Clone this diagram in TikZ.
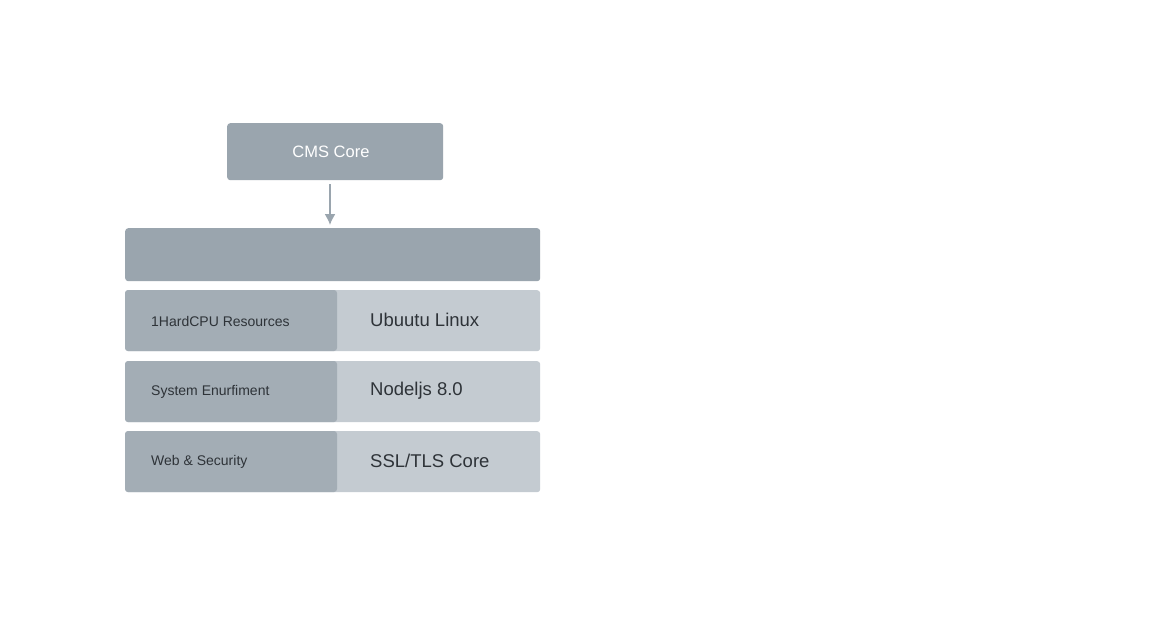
\documentclass[tikz,border=0pt]{standalone}
\usepackage{fontspec}
\setmainfont{Liberation Sans}
\usetikzlibrary{arrows.meta}
\definecolor{dark}{HTML}{9AA5AE}
\definecolor{mid}{HTML}{A3ADB5}
\definecolor{light}{HTML}{C4CBD1}
\definecolor{txt}{HTML}{2E3338}
\begin{document}
\begin{tikzpicture}[x=1pt,y=-1pt,
 box/.style={draw=none,fill=dark,rounded corners=3pt,inner sep=0pt,anchor=north west},
 lab/.style={text=txt,inner sep=0pt,font=\fontsize{14}{16}\selectfont},
 rlab/.style={text=txt,inner sep=0pt,font=\fontsize{18.5}{20}\selectfont}]
\useasboundingbox (0,0) rectangle (1152,640);
\fill[white] (0,0) rectangle (1152,640);
\node[box,minimum width=216,minimum height=57] (core) at (227,123) {};
\node[text=white,font=\fontsize{16.5}{18}\selectfont] at (331,152) {CMS Core};
\node[box,minimum width=415,minimum height=53] (bar) at (125,228) {};
\coordinate (s) at (330,184);
\coordinate (e) at (330,225);
\draw[dark,line width=1.6pt,-{Latex[length=11pt,width=11pt]}] (s) -- (e);
\foreach \y/\l/\r/\n in {290/{1HardCPU Resources}/{Ubuutu Linux}/a,361/{System Enurfiment}/{Nodeljs 8.0}/b,431/{Web \& Security}/{SSL/TLS Core}/c}{
 \node[box,fill=light,minimum width=415,minimum height=61] (row\n) at (125,\y) {};
 \fill[mid,rounded corners=3pt] (125,\y) rectangle (337,\y+61);
 \fill[mid] (330,\y) rectangle (334,\y+61);
 \node[lab,anchor=west] at (151,\y+31) {\l};
 \node[rlab,anchor=west] at (370,\y+30) {\r};
}
\end{tikzpicture}
\end{document}
